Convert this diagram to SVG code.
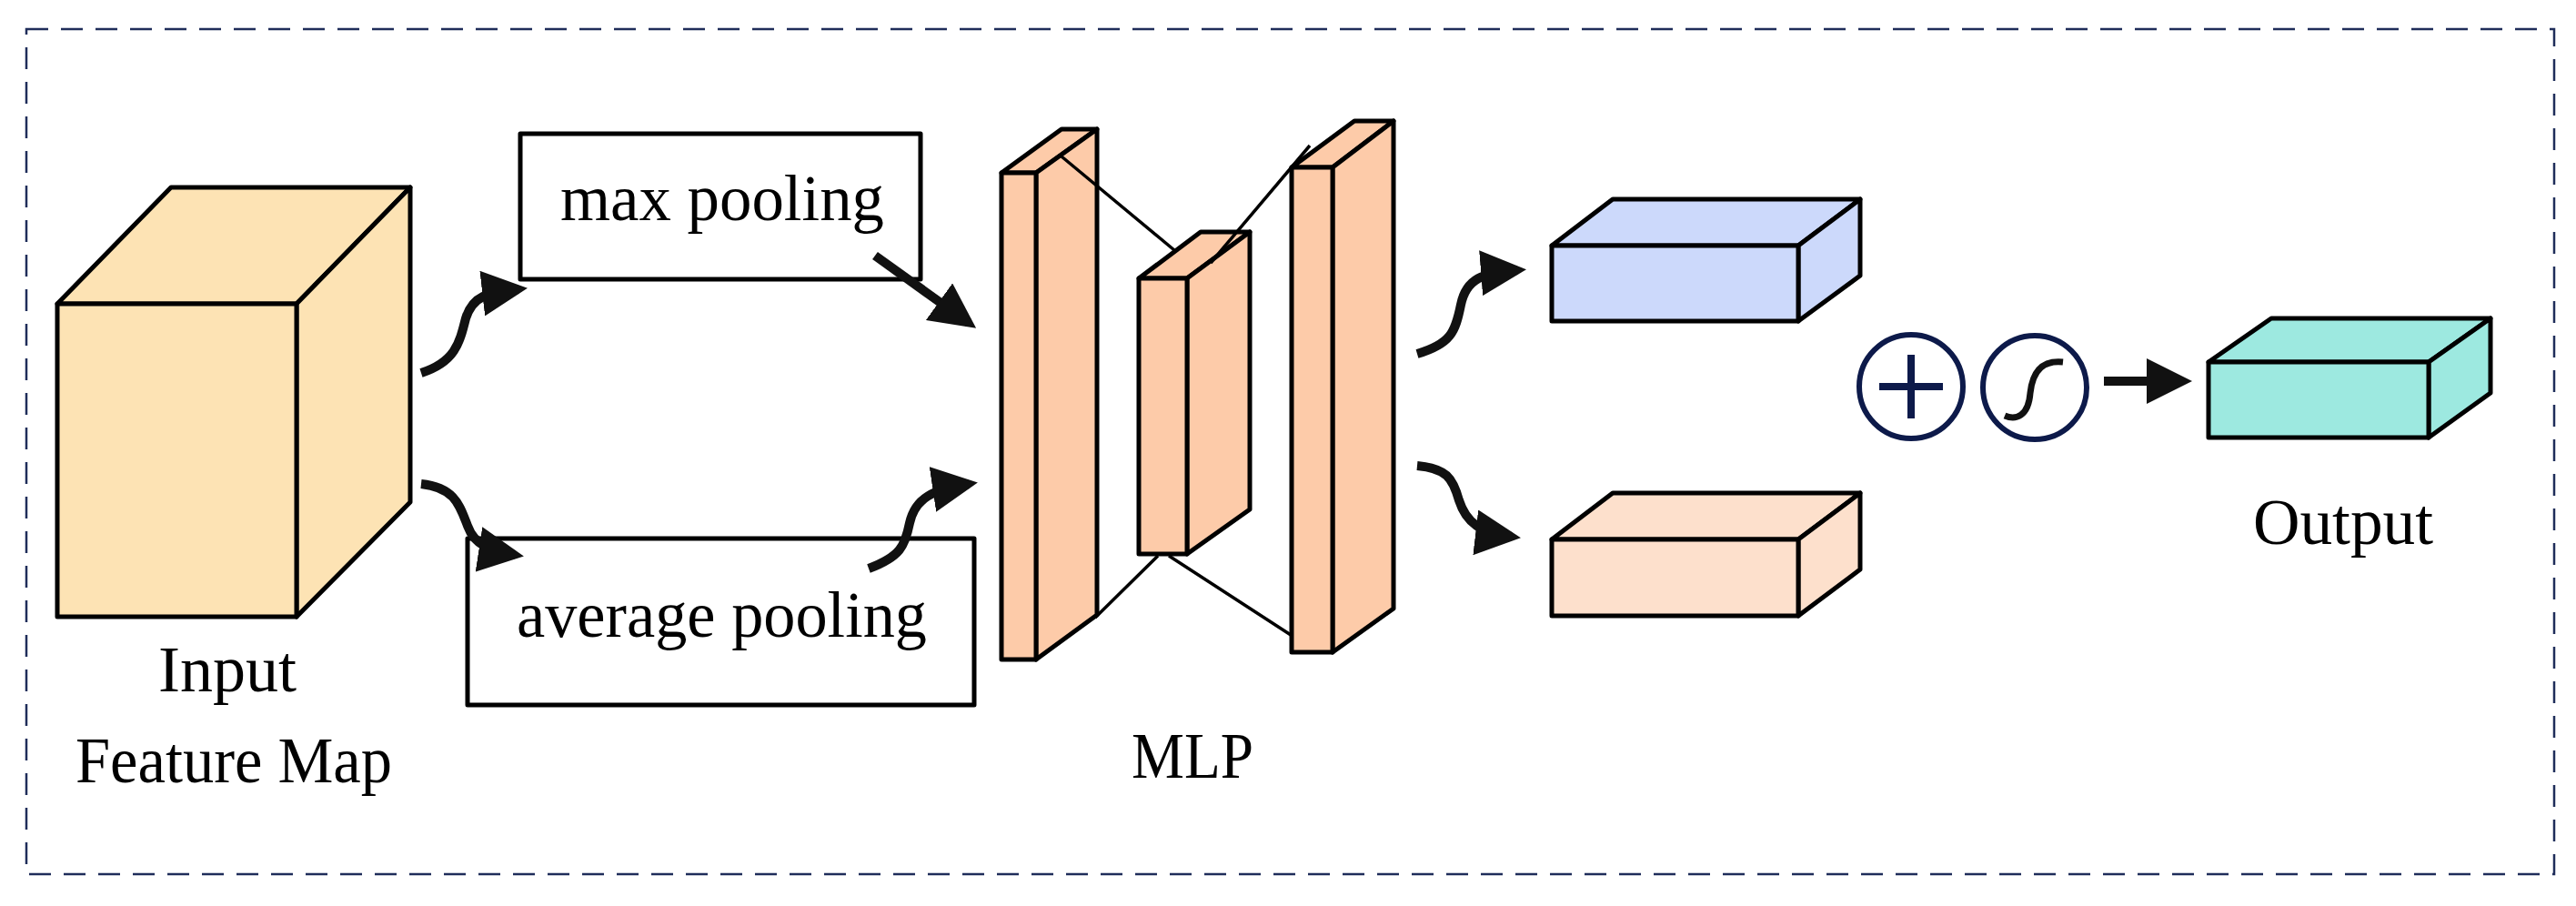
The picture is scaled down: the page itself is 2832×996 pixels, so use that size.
<svg xmlns="http://www.w3.org/2000/svg" width="2832" height="996" viewBox="0 0 2832 996">
<style>
.e{stroke:#000;stroke-width:5;stroke-linejoin:round}
.t{font-family:"Liberation Serif",serif;font-size:72px;fill:#000}
.a{fill:none;stroke:#111;stroke-width:10}
.l{stroke:#000;stroke-width:3.5;fill:none}
.c{fill:none;stroke:#0d1a4a;stroke-width:6}
</style>
<defs>
<marker id="ah" viewBox="0 0 10 10" refX="8" refY="5" markerWidth="5" markerHeight="5" orient="auto" markerUnits="strokeWidth">
<path d="M0,0 L10,5 L0,10 Z" fill="#111"/>
</marker>
</defs>
<rect x="29" y="32" width="2779" height="929" fill="none" stroke="#1f2d5a" stroke-width="2.5" stroke-dasharray="24,14"/>
<g id="input">
<polygon class="e" fill="#fde3b4" points="63,334 188,206 451,206 326,334"/>
<polygon class="e" fill="#fde3b4" points="326,334 451,206 451,552 326,678"/>
<rect class="e" fill="#fde3b4" x="63" y="334" width="263" height="344"/>
<text class="t" x="174" y="760" textLength="152" lengthAdjust="spacingAndGlyphs">Input</text>
<text class="t" x="83" y="860" textLength="348" lengthAdjust="spacingAndGlyphs">Feature Map</text>
</g>
<g id="maxpool">
<rect class="e" fill="#fff" x="572" y="147" width="440" height="160"/>
<text class="t" x="616" y="242" textLength="356" lengthAdjust="spacingAndGlyphs">max pooling</text>
</g>
<g id="avgpool">
<rect class="e" fill="#fff" x="514" y="592" width="557" height="183"/>
<text class="t" x="568" y="700" textLength="451" lengthAdjust="spacingAndGlyphs">average pooling</text>
</g>
<g id="mlp">
<polygon class="e" fill="#fdcba9" points="1101,190 1167,142 1206,142 1139,190"/>
<polygon class="e" fill="#fdcba9" points="1139,190 1206,142 1206,676 1139,725"/>
<rect class="e" fill="#fdcba9" x="1101" y="190" width="38" height="535"/>
<polygon class="e" fill="#fdcba9" points="1252,306 1320,255 1374,255 1305,306"/>
<polygon class="e" fill="#fdcba9" points="1305,306 1374,255 1374,560 1305,609"/>
<rect class="e" fill="#fdcba9" x="1252" y="306" width="53" height="303"/>
<polygon class="e" fill="#fdcba9" points="1420,184 1489,133 1532,133 1465,184"/>
<polygon class="e" fill="#fdcba9" points="1465,184 1532,133 1532,669 1465,717"/>
<rect class="e" fill="#fdcba9" x="1420" y="184" width="45" height="533"/>
<path class="l" d="M1167,172 L1291,275 M1204,679 L1273,611 M1285,611 L1419,698 M1331,289 L1440,160"/>
<text class="t" x="1244" y="855" textLength="134" lengthAdjust="spacingAndGlyphs">MLP</text>
</g>
<g id="maxfeat">
<polygon class="e" fill="#ccd9fb" points="1706,270 1773,219 2045,219 1977,270"/>
<polygon class="e" fill="#ccd9fb" points="1977,270 2045,219 2045,303 1977,353"/>
<rect class="e" fill="#ccd9fb" x="1706" y="270" width="271" height="83"/>
</g>
<g id="avgfeat">
<polygon class="e" fill="#fde0cc" points="1706,593 1773,542 2045,542 1977,593"/>
<polygon class="e" fill="#fde0cc" points="1977,593 2045,542 2045,626 1977,677"/>
<rect class="e" fill="#fde0cc" x="1706" y="593" width="271" height="84"/>
</g>
<g id="ops">
<circle class="c" cx="2101" cy="425" r="57"/>
<path d="M2101,390 V460 M2066,425 H2136" stroke="#0d1a4a" stroke-width="8"/>
<circle class="c" cx="2237" cy="426" r="57"/>
<path d="M2204,457 C2216,462 2230,458 2232,432 C2235,405 2248,396 2268,398" fill="none" stroke="#111" stroke-width="7"/>
</g>
<g id="output">
<polygon class="e" fill="#9de9e0" points="2428,398 2497,350 2738,350 2670,398"/>
<polygon class="e" fill="#9de9e0" points="2670,398 2738,350 2738,432 2670,481"/>
<rect class="e" fill="#9de9e0" x="2428" y="398" width="242" height="83"/>
<text class="t" x="2477" y="598" textLength="198" lengthAdjust="spacingAndGlyphs">Output</text>
</g>
<g id="connectors">
<path class="a" marker-end="url(#ah)" d="M463,410 C500,398 505,378 512,350 C520,325 535,322 570,318"/>
<path class="a" marker-end="url(#ah)" d="M463,532 C500,536 505,555 514,578 C522,600 540,606 566,610"/>
<path class="a" marker-end="url(#ah)" d="M962,281 L1065,355"/>
<path class="a" marker-end="url(#ah)" d="M955,625 C990,612 995,600 1000,575 C1006,548 1025,538 1065,532"/>
<path class="a" marker-end="url(#ah)" d="M1558,389 C1595,378 1600,365 1606,335 C1612,306 1630,300 1668,297"/>
<path class="a" marker-end="url(#ah)" d="M1558,512 C1590,515 1597,525 1604,550 C1612,575 1628,586 1662,590"/>
<path class="a" marker-end="url(#ah)" d="M2313,419 L2400,419"/>
</g>
</svg>
